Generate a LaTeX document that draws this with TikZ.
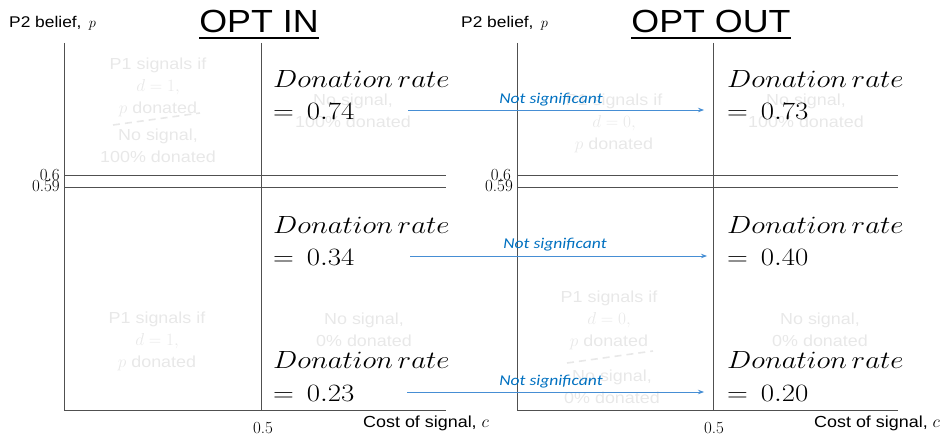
\documentclass[tikz,border=0pt]{standalone}
\usepackage{fontspec}
\newfontfamily\arialfont[FakeStretch=1.12]{Liberation Sans}
\newfontfamily\calibrifont[FakeStretch=1.17]{Carlito}
\usetikzlibrary{arrows.meta}
\definecolor{nsblue}{RGB}{0,112,192}
\definecolor{arrowblue}{RGB}{70,142,212}
\definecolor{faintgray}{RGB}{232,232,232}
\definecolor{axisgray}{RGB}{80,80,80}
% wide math lettering for the rate boxes
\newcommand{\widemath}[1]{\scalebox{1.16}[1]{$#1$}}
\begin{document}
\begin{tikzpicture}[x=1pt,y=-1pt,
  axisline/.style={draw=axisgray, line width=1pt},
  ghost/.style={text=faintgray, font=\arialfont\fontsize{16}{22}\selectfont, align=center, inner sep=0pt},
  ghostdash/.style={draw=faintgray, line width=1.6pt, dash pattern=on 7pt off 5pt},
  ratebox/.style={anchor=base west, inner sep=0pt, font=\fontsize{25.5}{30}\selectfont},
  tick/.style={font=\fontsize{17}{17}\selectfont, inner sep=0pt},
  axlabel/.style={font=\arialfont\fontsize{15.5}{15.5}\selectfont, anchor=base west, inner sep=0pt},
  costlabel/.style={font=\arialfont\fontsize{16}{16}\selectfont, anchor=base west, inner sep=0pt},
  titletext/.style={font=\arialfont\fontsize{32}{32}\selectfont, anchor=base, inner sep=0pt},
  underlined/.style={draw=black, line width=1.6pt},
  nsarrow/.style={draw=arrowblue, line width=0.8pt, -{Stealth[length=6pt,width=4.5pt]}},
  nslabel/.style={text=nsblue, font=\calibrifont\itshape\fontsize{15}{15}\selectfont, inner sep=0pt},
]
\useasboundingbox (0,0) rectangle (944,436);

% ---------- faint region descriptions (left panel: opt in) ----------
\node[ghost] (g1a) at (158,87) {P1 signals if\\$d=1,$\\$p$ donated};
\draw[ghostdash] (113,125) -- (200,113);
\node[ghost] (g1b) at (158,146) {No signal,\\100\% donated};
\node[ghost] (g2) at (353,111) {No signal,\\100\% donated};
\node[ghost] (g3) at (157,341) {P1 signals if\\$d=1,$\\$p$ donated};
\node[ghost] (g4) at (364,330) {No signal,\\0\% donated};

% ---------- faint region descriptions (right panel: opt out) ----------
\node[ghost] (h1) at (614,123) {P1 signals if\\$d=0,$\\$p$ donated};
\node[ghost] (h2) at (806,111) {No signal,\\100\% donated};
\node[ghost] (h3) at (609,320) {P1 signals if\\$d=0,$\\$p$ donated};
\draw[ghostdash] (567,363) -- (653,351);
\node[ghost] (h4) at (612,387) {No signal,\\0\% donated};
\node[ghost] (h5) at (820,330) {No signal,\\0\% donated};

% ---------- left panel axes ----------
\draw[axisline] (64,43) -- (64,410) -- (446,410);
\draw[axisline] (261,43) -- (261,410);
\draw[axisline] (64,175) -- (446,175);
\draw[axisline] (64,187) -- (446,187);
\node[tick, anchor=east] (l06) at (60,175) {0.6};
\node[tick, anchor=east] (l059) at (60,186) {0.59};
\node[tick] (l05) at (263,428) {0.5};
\node[axlabel] (lyl) at (9,28) {P2 belief,\, $p$};
\node[costlabel] (lxl) at (363,427) {Cost of signal, $c$};
\node[titletext] (t1) at (259,33) {OPT IN};
\draw[underlined] ([yshift=-5pt]t1.base west) -- ([yshift=-5pt]t1.base east);

% ---------- right panel axes ----------
\draw[axisline] (517,43) -- (517,410) -- (898,410);
\draw[axisline] (713,43) -- (713,410);
\draw[axisline] (517,175) -- (898,175);
\draw[axisline] (517,187) -- (898,187);
\node[tick, anchor=east] (r06) at (511,175) {0.6};
\node[tick, anchor=east] (r059) at (513,186) {0.59};
\node[tick] (r05) at (714,428) {0.5};
\node[axlabel] (ryl) at (461,28) {P2 belief,\, $p$};
\node[costlabel] (rxl) at (814,427) {Cost of signal, $c$};
\node[titletext] (t2) at (711,33) {OPT OUT};
\draw[underlined] ([yshift=-5pt]t2.base west) -- ([yshift=-5pt]t2.base east);

% ---------- donation rates ----------
\node[ratebox] (a1) at (273,87) {\widemath{Donation\,rate}};
\node[ratebox] (a1v) at (273,119) {\widemath{=\,0.74}};
\node[ratebox] (a2) at (273,233) {\widemath{Donation\,rate}};
\node[ratebox] (a2v) at (273,265) {\widemath{=\,0.34}};
\node[ratebox] (a3) at (273,368) {\widemath{Donation\,rate}};
\node[ratebox] (a3v) at (273,401) {\widemath{=\,0.23}};

\node[ratebox] (b1) at (727,87) {\widemath{Donation\,rate}};
\node[ratebox] (b1v) at (727,119) {\widemath{=\,0.73}};
\node[ratebox] (b2) at (727,233) {\widemath{Donation\,rate}};
\node[ratebox] (b2v) at (727,265) {\widemath{=\,0.40}};
\node[ratebox] (b3) at (727,368) {\widemath{Donation\,rate}};
\node[ratebox] (b3v) at (727,401) {\widemath{=\,0.20}};

% ---------- comparison arrows ----------
\coordinate (s1) at (408,110);
\coordinate (e1) at (704,110);
\coordinate (s2) at (410,256);
\coordinate (e2) at (707,256);
\coordinate (s3) at (407,392);
\coordinate (e3) at (704,392);
\draw[nsarrow] (s1) -- (e1);
\draw[nsarrow] (s2) -- (e2);
\draw[nsarrow] (s3) -- (e3);
\node[nslabel] (n1) at (551,100) {Not significant};
\node[nslabel] (n2) at (555,245) {Not significant};
\node[nslabel] (n3) at (551,382) {Not significant};
\end{tikzpicture}
\end{document}
